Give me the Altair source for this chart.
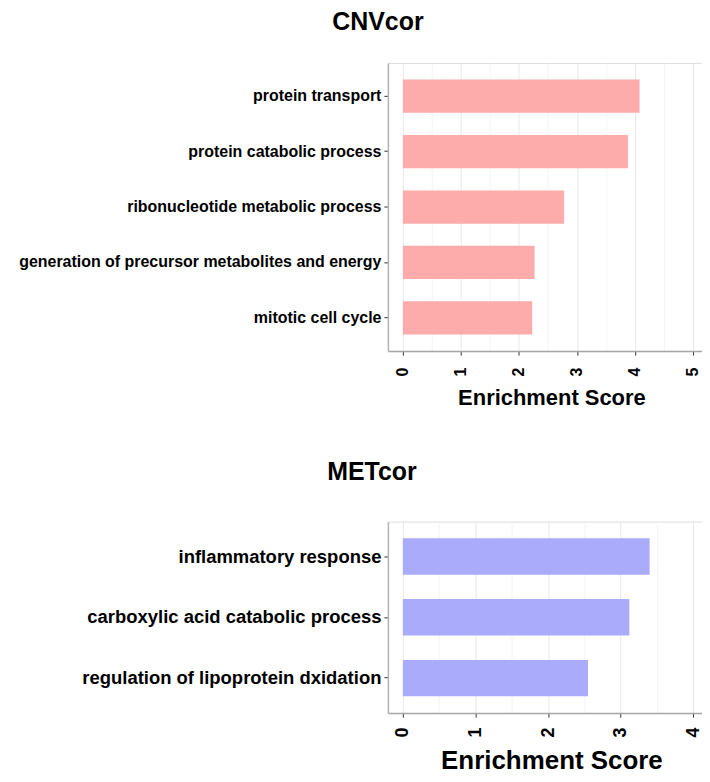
import altair as alt
import pandas as pd

cnv_terms = [
    "protein transport",
    "protein catabolic process",
    "ribonucleotide metabolic process",
    "generation of precursor metabolites and energy",
    "mitotic cell cycle",
]
cnv_scores = [4.08, 3.88, 2.78, 2.27, 2.23]

met_terms = [
    "inflammatory response",
    "carboxylic acid catabolic process",
    "regulation of lipoprotein dxidation",
]
met_scores = [3.40, 3.12, 2.55]

cnv_ticks = [0, 0.5, 1, 1.5, 2, 2.5, 3, 3.5, 4, 4.5, 5]
met_ticks = [0, 0.5, 1, 1.5, 2, 2.5, 3, 3.5, 4]

cnv_df = pd.DataFrame({"term": cnv_terms, "score": cnv_scores})
met_df = pd.DataFrame({"term": met_terms, "score": met_scores})

FONT = "Liberation Sans"
is_major = "datum.value % 1 === 0"


def panel(df, terms, ticks, domain, color, title, title_dx, title_offset, h, pad_outer,
          ylab_size, xlab_size, xtitle_size, xlab_pad, xtitle_pad):
    x_axis = alt.Axis(
        values=ticks,
        labelExpr="datum.value % 1 === 0 ? '' + datum.value : ''",
        labelAngle=270,
        labelFont=FONT,
        labelFontWeight="bold",
        labelFontSize=xlab_size,
        labelColor="#000000",
        labelPadding=xlab_pad,
        tickColor="#333333",
        tickSize=4,
        tickOpacity=alt.condition(is_major, alt.value(1), alt.value(0)),
        gridColor=alt.condition(is_major, alt.value("#e8e8e8"), alt.value("#f4f4f4")),
        domainColor="#a6a6a6",
        domainWidth=1.5,
        title="Enrichment Score",
        titleFont=FONT,
        titleFontWeight="bold",
        titleFontSize=xtitle_size,
        titleColor="#000000",
        titlePadding=xtitle_pad,
    )
    y_axis = alt.Axis(
        title=None,
        bandPosition=0.5,
        labelFont=FONT,
        labelFontWeight="bold",
        labelFontSize=ylab_size,
        labelColor="#000000",
        labelLimit=0,
        labelPadding=3,
        tickColor="#333333",
        tickSize=4,
        gridColor="#ececec",
        domainColor="#b3b3b3",
        domainWidth=1.5,
        minExtent=380,
        maxExtent=380,
    )
    return (
        alt.Chart(df)
        .mark_bar(color=color)
        .encode(
            x=alt.X("score:Q", scale=alt.Scale(domain=domain, nice=False, zero=False),
                    axis=x_axis),
            y=alt.Y("term:N", sort=terms,
                    scale=alt.Scale(paddingInner=0.4, paddingOuter=pad_outer),
                    axis=y_axis),
        )
        .properties(
            width=328,
            height=h,
            title=alt.TitleParams(
                title,
                font=FONT,
                fontWeight="bold",
                fontSize=25,
                color="#000000",
                anchor="middle",
                frame="group",
                dx=title_dx,
                offset=title_offset,
            ),
        )
    )


top = panel(cnv_df, cnv_terms, cnv_ticks, [-0.258, 5.38], "#FDABAB", "CNVcor", -174, 28,
            289, 0.3, 16, 16, 22, 12, 12)
bottom = panel(met_df, met_terms, met_ticks, [-0.206, 4.3], "#ABABFB", "METcor", -180, 37,
               192, 0.275, 18.5, 18, 26, 10, 11)

chart = (
    alt.vconcat(top, bottom, spacing=49)
    .properties(padding={"left": 0, "top": 0, "right": -14, "bottom": 0})
    .configure_view(stroke="#c4c4c4", strokeWidth=1)
    .configure(background="white")
)

chart.save("out.html", embed_options={"renderer": "svg", "actions": False})
